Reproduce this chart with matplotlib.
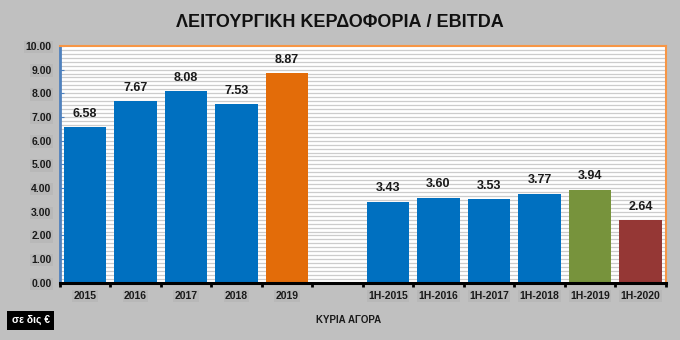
import numpy as np
import matplotlib.pyplot as plt

categories = ["2015", "2016", "2017", "2018", "2019", "",
              "1H-2015", "1H-2016", "1H-2017", "1H-2018", "1H-2019", "1H-2020"]
values = [6.58, 7.67, 8.08, 7.53, 8.87, None, 3.43, 3.60, 3.53, 3.77, 3.94, 2.64]
colors = ["#0070C0", "#0070C0", "#0070C0", "#0070C0", "#E36C09", "#ffffff",
          "#0070C0", "#0070C0", "#0070C0", "#0070C0", "#77933C", "#953735"]
yticks = [0, 1, 2, 3, 4, 5, 6, 7, 8, 9, 10]

bg = "#c0c0c0"
fig = plt.figure(figsize=(6.8, 3.4), dpi=100, facecolor=bg)
ax = fig.add_axes([0.088, 0.168, 0.891, 0.697])
ax.set_facecolor("white")

# striped background
for y in np.arange(0, 10, 1 / 6):
    ax.axhline(y, color="#cccccc", lw=0.9, zorder=0)

x = np.arange(len(categories))
for i, v in enumerate(values):
    if v is None:
        continue
    ax.bar(x[i], v, width=0.84, color=colors[i], zorder=2)
    ax.text(x[i], v + 0.3, f"{v:.2f}", ha="center", va="bottom",
            fontsize=9, fontweight="bold", color="#1a1a1a", family="Liberation Sans")

ax.set_xlim(-0.5, len(categories) - 0.5)
ax.set_ylim(0, 10)
ax.set_yticks(yticks)
ax.set_yticklabels([f"{t:.2f}" for t in yticks], fontsize=7.5, fontweight="bold",
                   color="#1a1a1a", family="Liberation Sans")
ax.set_xticks(x)
ax.set_xticklabels(categories, fontsize=7.5, fontweight="bold", color="#1a1a1a",
                   family="Liberation Sans")
ax.set_xticks(np.arange(-0.5, len(categories), 1), minor=True)
ax.tick_params(axis="x", which="major", length=0, pad=6)
ax.tick_params(axis="x", which="minor", length=3, width=2, color="black", direction="out")
ax.tick_params(axis="y", length=3, color="#4f81bd", direction="in", pad=6)

for lbl in ax.get_xticklabels() + ax.get_yticklabels():
    if lbl.get_text():
        lbl.set_bbox(dict(boxstyle="square,pad=0.12", fc="#b8b8b8", ec="none"))

ax.spines["left"].set_color("#4f81bd")
ax.spines["left"].set_linewidth(2)
ax.spines["bottom"].set_color("black")
ax.spines["bottom"].set_linewidth(2.2)
ax.spines["top"].set_color("#F79646")
ax.spines["top"].set_linewidth(1.5)
ax.spines["right"].set_color("#F79646")
ax.spines["right"].set_linewidth(1.5)

fig.text(0.5, 0.935, "ΛΕΙΤΟΥΡΓΙΚΗ ΚΕΡΔΟΦΟΡΙΑ / EBITDA", ha="center", va="center",
         fontsize=13, fontweight="bold", family="Liberation Sans", color="#111111")
fig.text(0.512, 0.06, "ΚΥΡΙΑ ΑΓΟΡΑ", ha="center", va="center", fontsize=7,
         fontweight="bold", color="#1a1a1a", family="Liberation Sans")
fig.text(0.045, 0.058, "σε δις €", ha="center", va="center", fontsize=7.5,
         fontweight="bold", color="white", family="Liberation Sans",
         bbox=dict(boxstyle="square,pad=0.4", fc="black", ec="none"))

fig.savefig("out.png", dpi=100, facecolor=bg)
